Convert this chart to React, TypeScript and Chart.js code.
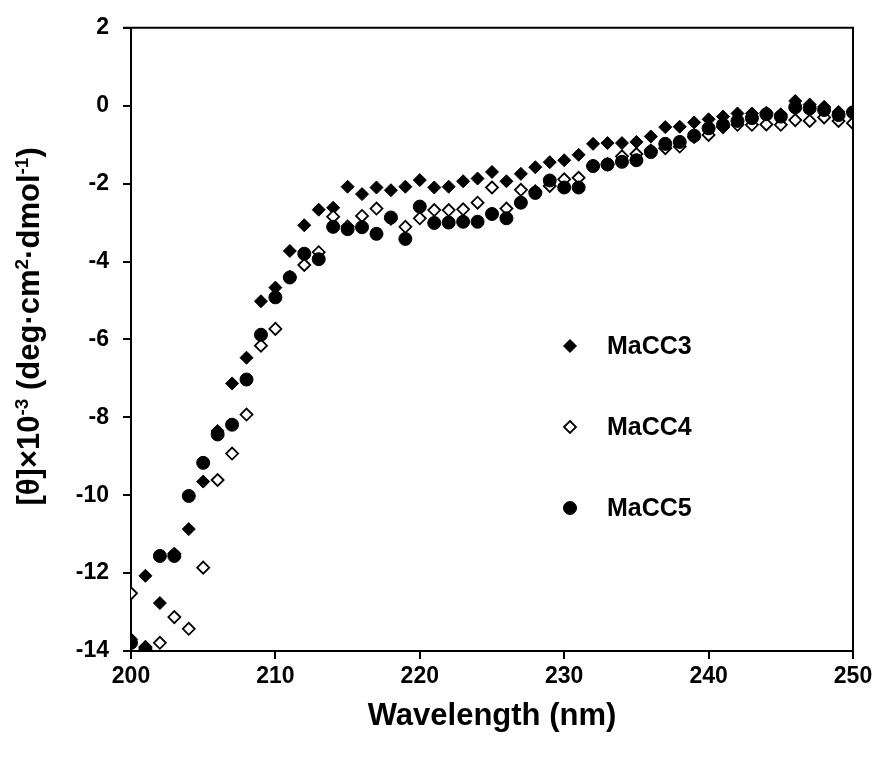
import React, { useEffect, useRef } from "react";
import { Chart, registerables } from "chart.js";

Chart.register(...registerables);

const wavelengths = [
  200, 201, 202, 203, 204, 205, 206, 207, 208, 209,
  210, 211, 212, 213, 214, 215, 216, 217, 218, 219,
  220, 221, 222, 223, 224, 225, 226, 227, 228, 229,
  230, 231, 232, 233, 234, 235, 236, 237, 238, 239,
  240, 241, 242, 243, 244, 245, 246, 247, 248, 249, 250,
];

const macc3 = [
  -13.7, -12.07, -12.77, -11.5, -10.87, -9.65, -8.35, -7.13, -6.47, -5.02,
  -4.67, -3.73, -3.07, -2.67, -2.62, -2.08, -2.27, -2.1, -2.17, -2.08,
  -1.91, -2.1, -2.08, -1.94, -1.87, -1.7, -1.94, -1.75, -1.58, -1.45,
  -1.4, -1.26, -0.98, -0.96, -0.96, -0.93, -0.79, -0.55, -0.54, -0.43,
  -0.35, -0.28, -0.2, -0.2, -0.18, -0.22, 0.12, 0.03, -0.03, -0.16, -0.16,
];

const macc4 = [
  -12.52, -13.9, -13.79, -13.13, -13.43, -11.86, -9.61, -8.93, -7.93, -6.16,
  -5.73, -4.4, -4.09, -3.76, -2.85, -3.1, -2.83, -2.64, -2.9, -3.11,
  -2.89, -2.68, -2.68, -2.66, -2.49, -2.1, -2.64, -2.16, -2.2, -2.06,
  -1.89, -1.85, -1.55, -1.5, -1.3, -1.24, -1.15, -1.09, -1.05, -0.8,
  -0.75, -0.55, -0.49, -0.49, -0.48, -0.49, -0.37, -0.39, -0.3, -0.39, -0.45,
];

const macc5 = [
  -13.79, -13.96, -11.56, -11.56, -10.02, -9.17, -8.44, -8.19, -7.03, -5.88,
  -4.92, -4.41, -3.8, -3.94, -3.11, -3.17, -3.12, -3.29, -2.87, -3.42,
  -2.59, -3.01, -3.0, -2.98, -2.98, -2.78, -2.89, -2.49, -2.24, -1.92,
  -2.1, -2.1, -1.55, -1.51, -1.44, -1.4, -1.19, -0.98, -0.93, -0.77,
  -0.58, -0.49, -0.39, -0.32, -0.22, -0.28, -0.04, -0.07, -0.11, -0.24, -0.17,
];

const seriesNames = ["MaCC3", "MaCC4", "MaCC5"];
const xTitle = "Wavelength (nm)";

const FONT = '"Liberation Sans", Arial, Helvetica, sans-serif';

const toPoints = (vals: number[]) =>
  wavelengths.map((w, i) => ({ x: w, y: vals[i] }));

const decorPlugin = {
  id: "decor",
  afterDraw(chart: any) {
    const { ctx, chartArea } = chart;
    const { left, right, top, bottom } = chartArea;
    ctx.save();
    // top and right frame
    ctx.strokeStyle = "#000";
    ctx.lineWidth = 2;
    ctx.beginPath();
    ctx.moveTo(left - 8, top);
    ctx.lineTo(right, top);
    ctx.lineTo(right, bottom + 8);
    ctx.stroke();

    // x title
    ctx.fillStyle = "#000";
    ctx.font = `bold 31px ${FONT}`;
    ctx.textAlign = "center";
    ctx.textBaseline = "middle";
    ctx.fillText(xTitle, (left + right) / 2, 716);

    // y title with superscripts
    const parts: [string, boolean][] = [
      ["[θ]×10", false],
      ["-3", true],
      [" (deg·cm", false],
      ["2", true],
      ["·dmol", false],
      ["-1", true],
      [")", false],
    ];
    const big = `bold 31px ${FONT}`;
    const small = `bold 19px ${FONT}`;
    let total = 0;
    for (const [t, sup] of parts) {
      ctx.font = sup ? small : big;
      total += ctx.measureText(t).width;
    }
    ctx.translate(29, (top + bottom) / 2 - 13);
    ctx.rotate(-Math.PI / 2);
    ctx.textAlign = "left";
    ctx.textBaseline = "alphabetic";
    let cx = -total / 2;
    for (const [t, sup] of parts) {
      ctx.font = sup ? small : big;
      ctx.fillText(t, cx, sup ? -1 : 10);
      cx += ctx.measureText(t).width;
    }
    ctx.restore();

    // legend
    ctx.save();
    const ly = [346, 427, 508];
    const lx = 570;
    chart.data.datasets.forEach((ds: any, i: number) => {
      const y = ly[i];
      ctx.beginPath();
      if (ds.pointStyle === "circle") {
        ctx.arc(lx, y, ds.pointRadius, 0, Math.PI * 2);
      } else {
        const r = ds.pointRadius;
        ctx.moveTo(lx - r, y);
        ctx.lineTo(lx, y - r);
        ctx.lineTo(lx + r, y);
        ctx.lineTo(lx, y + r);
        ctx.closePath();
      }
      ctx.fillStyle = ds.backgroundColor;
      ctx.fill();
      ctx.lineWidth = ds.borderWidth;
      ctx.strokeStyle = ds.borderColor;
      ctx.stroke();
      ctx.fillStyle = "#000";
      ctx.font = `bold 25px ${FONT}`;
      ctx.textAlign = "left";
      ctx.textBaseline = "middle";
      ctx.fillText(ds.label, 607, y + 1);
    });
    ctx.restore();
  },
};

export default function App() {
  const ref = useRef<HTMLCanvasElement>(null);
  useEffect(() => {
    if (!ref.current) return;
    const chart = new Chart(ref.current, {
      type: "scatter",
      data: {
        datasets: [
          {
            label: seriesNames[0],
            data: toPoints(macc3),
            pointStyle: "rectRot",
            pointRadius: 6.5,
            backgroundColor: "#000",
            borderColor: "#000",
            borderWidth: 1,
            order: 3,
          },
          {
            label: seriesNames[1],
            data: toPoints(macc4),
            pointStyle: "rectRot",
            pointRadius: 6,
            backgroundColor: "#fff",
            borderColor: "#000",
            borderWidth: 1.8,
            order: 2,
          },
          {
            label: seriesNames[2],
            data: toPoints(macc5),
            pointStyle: "circle",
            pointRadius: 6.5,
            backgroundColor: "#000",
            borderColor: "#000",
            borderWidth: 1,
            order: 1,
          },
        ] as any,
      },
      options: {
        animation: false,
        responsive: false,
        devicePixelRatio: 1,
        layout: { padding: { top: 22, right: 28, left: 0, bottom: 0 } },
        plugins: {
          legend: { display: false },
          tooltip: { enabled: false },
        },
        scales: {
          x: {
            type: "linear",
            min: 200,
            max: 250,
            afterFit: (s: any) => {
              s.height = 112;
            },
            ticks: {
              stepSize: 10,
              color: "#000",
              padding: 4,
              font: { family: FONT, size: 23, weight: "bold" },
            },
            grid: {
              drawOnChartArea: false,
              drawTicks: true,
              tickLength: 8,
              color: "#000",
              lineWidth: 2,
            },
            border: { display: true, color: "#000", width: 2 },
          },
          y: {
            type: "linear",
            min: -14,
            max: 2,
            afterFit: (s: any) => {
              s.width = 131;
            },
            ticks: {
              stepSize: 2,
              color: "#000",
              padding: 14,
              font: { family: FONT, size: 23, weight: "bold" },
            },
            grid: {
              drawOnChartArea: false,
              drawTicks: true,
              tickLength: 8,
              color: "#000",
              lineWidth: 2,
            },
            border: { display: true, color: "#000", width: 2 },
          },
        },
      } as any,
      plugins: [decorPlugin],
    });
    return () => chart.destroy();
  }, []);
  return (
    <div style={{ position: "fixed", left: 0, top: 0, width: 881, height: 763, background: "#fff" }}>
      <canvas ref={ref} width={881} height={763} style={{ width: 881, height: 763, display: "block" }} />
    </div>
  );
}
